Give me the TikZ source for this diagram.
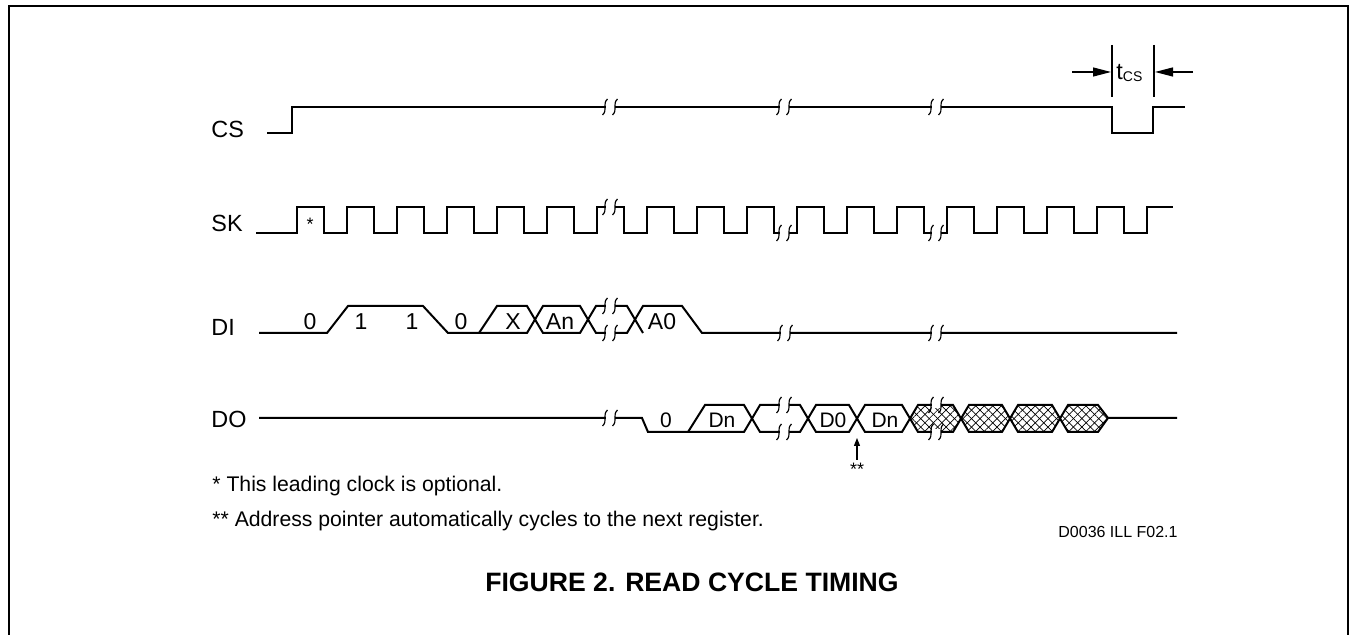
\documentclass[tikz,border=0pt]{standalone}
\usepackage{fontspec}
\setmainfont{Liberation Sans}
\usetikzlibrary{arrows.meta,patterns.meta}

% break symbol on a signal line at (#1,#2)
\newcommand\brkmark[2]{%
  \fill[white] ({#1-4.5},{#2-3}) rectangle ({#1+4.5},{#2+3});
  \draw[brk] ({#1-2.5},{#2-8}) .. controls ({#1-8},{#2-3}) and ({#1-2},{#2+3}) .. ({#1-7.5},{#2+8});
  \draw[brk] ({#1+7.5},{#2-8}) .. controls ({#1+2},{#2-3}) and ({#1+8},{#2+3}) .. ({#1+2.5},{#2+8});
}

\begin{document}
\begin{tikzpicture}[x=0.5pt,y=-0.5pt,
    sig/.style={line width=1pt},
    brk/.style={line width=0.6pt},
    frame/.style={line width=1.1pt},
    lbl/.style={inner sep=0pt, font=\fontsize{11.7}{14}\selectfont},
    val/.style={inner sep=0pt, font=\fontsize{11.5}{14}\selectfont},
    dval/.style={inner sep=0pt, font=\fontsize{10.5}{12}\selectfont},
    star/.style={inner sep=0pt, font=\fontsize{9}{10}\selectfont},
    note/.style={inner sep=0pt, font=\fontsize{10.6}{12}\selectfont},
    idtext/.style={inner sep=0pt, font=\fontsize{8}{9}\selectfont},
    title/.style={inner sep=0pt, font=\fontsize{13.3}{16}\selectfont\bfseries},
    dimarrow/.style={line width=0.6pt, -{Triangle[length=9pt,width=4.5pt]}},
    ptrarrow/.style={line width=0.6pt, -{Triangle[length=4pt,width=3pt]}}
  ]
    \useasboundingbox (0,0) rectangle (1350,635);
    \draw[frame] (9,635) -- (9,6) -- (1348,6) -- (1348,635);

    % signal names
    \node[lbl, anchor=base west] (cs)   at (211,138) {CS};
    \node[lbl, anchor=base west] (sk)   at (211,232) {SK};
    \node[lbl, anchor=base west] (di)   at (211,336) {DI};
    \node[lbl, anchor=base west] (dout) at (211,428) {DO};

    % CS
    \draw[sig] (267,133) -- (292,133) -- (292,107) -- (1112,107) -- (1112,133)
        -- (1153,133) -- (1153,107) -- (1185,107);
    \draw[brk] (1112,45) -- (1112,97);
    \draw[brk] (1154,45) -- (1154,97);
    \node[anchor=base west, inner sep=0pt] (tcs) at (1116,80)
        {\fontsize{11.7}{14}\selectfont t\raisebox{-1pt}{\fontsize{7}{8}\selectfont CS}};
    \coordinate (tcsa) at (1072,72);
    \coordinate (tcsl) at (1111,72);
    \coordinate (tcsb) at (1193,72);
    \coordinate (tcsr) at (1155,72);
    \draw[dimarrow] (tcsa) -- (tcsl);
    \draw[dimarrow] (tcsb) -- (tcsr);

    % SK
    \draw[sig] (256,233) \foreach \k in {0,...,16} {
        -- ({296.7+50*\k},233) -- ({296.7+50*\k},207)
        -- ({323.7+50*\k},207) -- ({323.7+50*\k},233) }
        -- (1146.7,233) -- (1146.7,207) -- (1173,207);
    \node[star, anchor=base] (lead) at (310,231) {*};

    % DI
    \draw[sig] (259,333) -- (327,333) -- (348,306) -- (423,306) -- (448,333)
        -- (527,333) -- (543,306) -- (580,306) -- (596,333) -- (627,333)
        -- (643,306) -- (682,306) -- (702,333) -- (1177,333);
    \draw[sig] (479,333) -- (497,306) -- (527,306) -- (543,333) -- (580,333)
        -- (596,306) -- (627,306) -- (643,333);
    \foreach \x/\t in {310/0, 361/1, 412/1, 461/0, 513/X, 560/An, 662/A0}
        {\node[val, anchor=base] (di-\x) at (\x,330) {\t};}

    % DO
    \foreach \a/\b in {910/961, 961/1010, 1010/1060} {
        \fill[pattern={Lines[angle=45,distance=3pt,line width=0.35pt]}]
            (\a,418) -- ({\a+8},405) -- ({\b-8},405) -- (\b,418) -- ({\b-8},432) -- ({\a+8},432) -- cycle;
        \fill[pattern={Lines[angle=-45,distance=3pt,line width=0.35pt]}]
            (\a,418) -- ({\a+8},405) -- ({\b-8},405) -- (\b,418) -- ({\b-8},432) -- ({\a+8},432) -- cycle;
    }
    \fill[pattern={Lines[angle=45,distance=3pt,line width=0.35pt]}]
        (1060,418) -- (1068,405) -- (1098,405) -- (1108,418) -- (1098,432) -- (1068,432) -- cycle;
    \fill[pattern={Lines[angle=-45,distance=3pt,line width=0.35pt]}]
        (1060,418) -- (1068,405) -- (1098,405) -- (1108,418) -- (1098,432) -- (1068,432) -- cycle;
    \draw[sig] (259,418) -- (642,418) -- (648,432) -- (744,432) -- (760,405)
        -- (800,405) -- (816,432) -- (849,432) -- (865,405) -- (902,405)
        -- (918,432) -- (953,432) -- (969,405) -- (1002,405) -- (1018,432)
        -- (1052,432) -- (1068,405) -- (1098,405) -- (1108,418) -- (1177,418);
    \draw[sig] (688,432) -- (705,405) -- (744,405) -- (760,432) -- (800,432)
        -- (816,405) -- (849,405) -- (865,432) -- (902,432) -- (918,405)
        -- (953,405) -- (969,432) -- (1002,432) -- (1018,405) -- (1052,405)
        -- (1068,432) -- (1098,432) -- (1108,418);
    \foreach \x/\t in {666/0, 722/Dn, 833/D0, 885/Dn}
        {\node[dval, anchor=base] (do-\x) at (\x,428) {\t};}

    % breaks
    \foreach \x/\y in {610/107, 784/107, 936/107, 610/207, 784/233, 936/233,
        610/306, 610/333, 785/333, 936/333,
        610/418, 784/405, 784/432, 936/405, 936/432}
        {\brkmark{\x}{\y}}

    % address pointer
    \node[star, anchor=base] (ptr) at (857,476) {**};
    \coordinate (ptrtail) at (857,460);
    \coordinate (ptrtip) at (857,438);
    \draw[ptrarrow] (ptrtail) -- (ptrtip);

    % notes
    \node[note, anchor=base west] (fn1) at (212,492) {* This leading clock is optional.};
    \node[note, anchor=base west] (fn2) at (212,527) {** Address pointer automatically cycles to the next register.};
    \node[idtext, anchor=base east] (fig) at (1178,538) {D0036 ILL F02.1};
    \node[title, anchor=base] (cap) at (692,592) {FIGURE 2. READ CYCLE TIMING};
\end{tikzpicture}
\end{document}
